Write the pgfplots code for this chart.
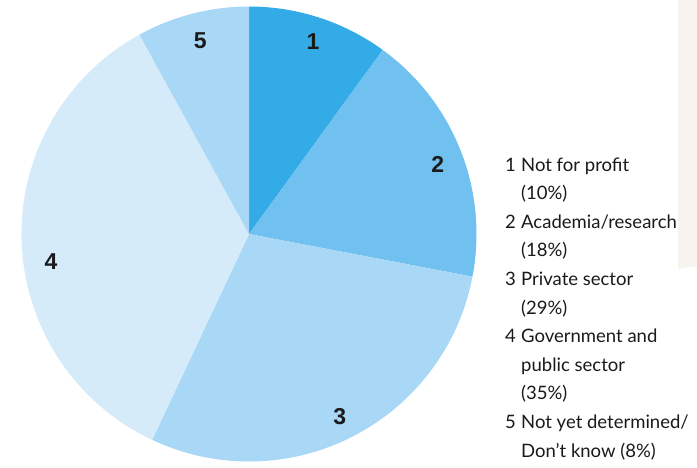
\documentclass[border=0pt]{standalone}
\usepackage{pgfplots}
\pgfplotsset{compat=1.18}
\usepackage{pgfplotstable}
\usepackage{fontspec}
\setmainfont{Lato}
\newfontfamily\numfont{Liberation Sans}
\definecolor{c1}{HTML}{33ABE6}
\definecolor{c2}{HTML}{70C1F0}
\definecolor{c3}{HTML}{A8D8F5}
\definecolor{c4}{HTML}{D5EBFA}
\definecolor{c5}{HTML}{A8D8F5}
\definecolor{beige}{HTML}{F7F3EE}
\definecolor{txt}{HTML}{1A1A1A}

\pgfplotstableread{
id value col labang labr
1 10 c1 71.6 203
2 18 c2 20.1 201
3 29 c3 -63.6 204
4 35 c4 188.0 200
5 8 c5 104.2 199
}\piedata

\begin{document}
\begin{tikzpicture}
\path[use as bounding box] (0,0) rectangle (697pt,467pt);
\begin{axis}[at={(0,0)},anchor=south west,scale only axis,
  width=697pt,height=467pt,xmin=0,xmax=697,ymin=0,ymax=467,
  y dir=reverse,hide axis,clip=false]
\addplot[draw=none,forget plot] coordinates {(0,0) (697,467)};
\coordinate (C) at (axis cs:249,234);
\fill[beige] (axis cs:678,0) -- (axis cs:697,0) -- (axis cs:697,266) -- (axis cs:678,269) -- cycle;
\begin{scope}[every node/.style={anchor=base west,inner sep=0pt,font=\fontsize{18.5}{20}\selectfont,text=txt}]
\node at (axis cs:505,171) {1};
\node at (axis cs:521,171) {Not for profit};
\node at (axis cs:521,199.6) {(10\%)};
\node at (axis cs:505,228.2) {2};
\node at (axis cs:521,228.2) {Academia/research};
\node at (axis cs:521,256.8) {(18\%)};
\node at (axis cs:505,285.4) {3};
\node at (axis cs:521,285.4) {Private sector};
\node at (axis cs:521,314) {(29\%)};
\node at (axis cs:505,342.6) {4};
\node at (axis cs:521,342.6) {Government and};
\node at (axis cs:521,371.2) {public sector};
\node at (axis cs:521,399.8) {(35\%)};
\node at (axis cs:505,428.4) {5};
\node at (axis cs:521,428.4) {Not yet determined/};
\node at (axis cs:521,457) {Don’t know (8\%)};
\end{scope}
\end{axis}
\gdef\startang{90}
\pgfplotstablegetrowsof{\piedata}
\pgfmathtruncatemacro{\lastrow}{\pgfplotsretval-1}
\pgfplotsforeachungrouped \i in {0,...,\lastrow}{%
  \pgfplotstablegetelem{\i}{value}\of\piedata \let\val\pgfplotsretval
  \pgfplotstablegetelem{\i}{col}\of\piedata \let\col\pgfplotsretval
  \pgfplotstablegetelem{\i}{id}\of\piedata \let\lab\pgfplotsretval
  \pgfplotstablegetelem{\i}{labang}\of\piedata \let\la\pgfplotsretval
  \pgfplotstablegetelem{\i}{labr}\of\piedata \let\lr\pgfplotsretval
  \pgfmathsetmacro{\endang}{\startang-3.6*\val}
  \fill[\col] (C) -- ++(\startang:227.5pt) arc[start angle=\startang,end angle=\endang,radius=227.5pt] -- cycle;
  \path (C) ++(\la:\lr pt) node[font=\numfont\bfseries\fontsize{23}{24}\selectfont,text=txt] {\lab};
  \xdef\startang{\endang}%
}
\end{tikzpicture}
\end{document}
